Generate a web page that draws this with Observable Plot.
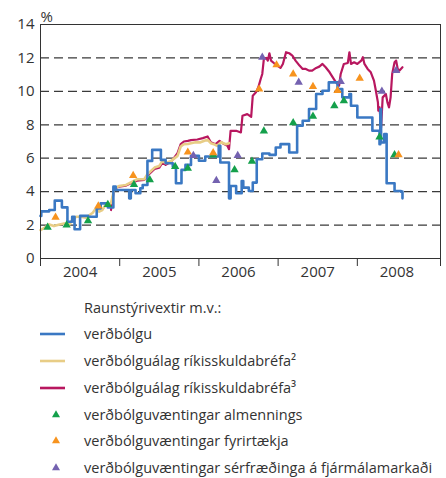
<!DOCTYPE html>
<html>
<head>
<meta charset="utf-8">
<script src="https://cdn.jsdelivr.net/npm/d3@7"></script>
<script src="https://cdn.jsdelivr.net/npm/@observablehq/plot@0.6"></script>
<style>
  body { margin: 0; background: #fff; }
  #chart { width: 446px; height: 478px; position: relative; font-family: "Open Sans", sans-serif; color: #333; }
  #chart svg { display: block; }
</style>
</head>
<body>
<div id="chart"></div>
<script>
// ---- Data (decimal years, %) ----
const blueT = [2004.00,2004.01,2004.11,2004.18,2004.27,2004.34,2004.40,2004.43,2004.50,2004.60,2004.71,2004.76,2004.85,2004.92,2004.95,2005.12,2005.14,2005.20,2005.26,2005.29,2005.35,2005.41,2005.52,2005.58,2005.67,2005.71,2005.78,2005.83,2005.90,2006.00,2006.08,2006.15,2006.25,2006.27,2006.38,2006.40,2006.47,2006.54,2006.56,2006.63,2006.68,2006.73,2006.80,2006.89,2006.97,2007.03,2007.14,2007.24,2007.31,2007.39,2007.48,2007.56,2007.64,2007.75,2007.81,2007.90,2007.92,2008.00,2008.19,2008.28,2008.29,2008.30,2008.34,2008.37,2008.47,2008.55,2008.57];
const blueV = [2.55,2.82,2.9,3.46,3.06,2.2,2.5,1.75,2.55,2.5,3.0,3.3,3.05,4.3,4.1,3.6,4.1,3.9,4.2,4.4,5.84,6.5,5.9,5.7,5.5,4.5,5.3,5.6,6.15,5.85,6.1,6.1,6.75,5.74,3.6,4.34,3.9,4.64,4.24,4.04,4.54,5.94,6.28,6.2,6.64,6.84,6.34,7.94,8.24,8.94,9.84,10.04,10.54,10.14,9.64,9.84,9.14,8.44,7.64,6.84,8.94,6.94,7.44,4.5,4.04,4.0,3.6];

const yellowT = [2004.00,2004.05,2004.11,2004.17,2004.24,2004.30,2004.36,2004.40,2004.45,2004.51,2004.57,2004.66,2004.70,2004.74,2004.78,2004.82,2004.89,2004.93,2004.99,2005.08,2005.16,2005.22,2005.31,2005.35,2005.44,2005.50,2005.54,2005.58,2005.65,2005.73,2005.77,2005.81,2005.86,2005.90,2005.96,2006.02,2006.07,2006.11,2006.15,2006.19,2006.23,2006.28,2006.34,2006.38];
const yellowV = [1.7,1.84,2.04,1.94,2.04,2.1,2.0,2.3,2.5,2.5,2.44,2.74,3.0,2.8,2.9,3.2,3.3,4.14,4.34,4.4,4.6,4.74,4.74,5.04,5.44,5.54,5.84,5.7,5.84,6.14,6.7,6.84,6.85,6.9,6.95,6.95,7.04,7.1,6.9,6.84,6.74,6.95,6.84,6.9];

const redT = [2004.89,2004.93,2004.99,2005.08,2005.16,2005.22,2005.31,2005.35,2005.44,2005.50,2005.54,2005.58,2005.65,2005.73,2005.77,2005.81,2005.86,2005.90,2005.98,2006.05,2006.11,2006.15,2006.21,2006.26,2006.30,2006.36,2006.38,2006.40,2006.47,2006.53,2006.55,2006.61,2006.66,2006.68,2006.72,2006.75,2006.78,2006.80,2006.82,2006.85,2006.87,2006.89,2006.91,2006.95,2006.99,2007.03,2007.06,2007.10,2007.14,2007.18,2007.22,2007.27,2007.31,2007.35,2007.39,2007.43,2007.48,2007.52,2007.56,2007.60,2007.65,2007.69,2007.73,2007.77,2007.79,2007.83,2007.88,2007.90,2007.92,2007.96,2008.00,2008.05,2008.07,2008.09,2008.13,2008.17,2008.21,2008.23,2008.26,2008.265,2008.28,2008.30,2008.32,2008.36,2008.38,2008.40,2008.42,2008.44,2008.47,2008.49,2008.51,2008.53,2008.55,2008.57];
const redV = [2.9,4.2,4.3,4.36,4.55,4.66,4.7,4.95,5.36,5.44,5.75,5.6,5.8,6.3,6.85,7.0,7.04,7.08,7.12,7.2,7.3,6.95,6.84,7.04,6.9,6.74,6.54,7.64,7.64,7.54,8.54,8.64,8.48,9.74,9.94,10.24,10.74,11.04,11.94,12.0,11.84,12.28,11.84,11.68,11.54,11.4,11.64,12.34,12.28,12.14,11.84,11.54,11.34,11.34,11.24,11.24,11.4,11.48,11.64,11.44,11.14,10.84,10.54,10.34,11.04,11.64,11.7,12.34,11.64,11.74,11.64,11.84,12.04,11.64,11.34,11.14,10.64,10.14,9.34,8.84,9.04,7.84,9.64,9.84,9.34,9.04,9.64,11.04,11.74,11.84,11.34,11.24,11.34,11.44];

const greenT = [2004.09,2004.33,2004.60,2004.85,2005.18,2005.38,2005.70,2005.86,2006.18,2006.45,2006.67,2006.82,2007.19,2007.44,2007.71,2007.83,2008.28,2008.47];
const greenV = [1.86,2.0,2.26,3.22,4.42,4.7,5.5,5.4,6.18,5.3,5.82,7.62,8.12,8.5,9.14,9.44,7.26,6.2];

const orangeT = [2004.19,2004.73,2005.17,2005.86,2006.18,2006.76,2006.98,2007.19,2007.44,2007.75,2008.03,2008.52];
const orangeV = [2.46,3.14,4.96,6.36,6.32,10.14,11.58,11.04,10.28,10.04,10.78,6.2];

const purpleT = [2005.93,2006.22,2006.49,2006.80,2007.26,2007.79,2008.31,2008.49];
const purpleV = [6.16,4.66,6.16,12.04,10.54,10.58,10.0,11.24];

const yearTicks = [2004, 2005, 2006, 2007, 2008, 2009.05];
const yearLabels = [2004, 2005, 2006, 2007, 2008];
const yTicks = [0, 2, 4, 6, 8, 10, 12, 14];
const gridLines = [2, 4, 6, 8, 10, 12];

const legendTitle = "Raunstýrivextir m.v.:";
const legendNames = [
  "verðbólgu",
  "verðbólguálag ríkisskuldabréfa²",
  "verðbólguálag ríkisskuldabréfa³",
  "verðbólguvæntingar almennings",
  "verðbólguvæntingar fyrirtækja",
  "verðbólguvæntingar sérfræðinga á fjármálamarkaði"
];

// ---- Styles ----
const C = { blue: "#3a78c3", yellow: "#e8cd86", red: "#b8175f", green: "#14a04b", orange: "#f7931e", purple: "#7462b0" };
const legendKinds = ["line", "line", "line", "tri", "tri", "tri"];
const legendColors = [C.blue, C.yellow, C.red, C.green, C.orange, C.purple];

const zip = (T, V) => T.map((t, i) => ({ t, v: V[i] }));
const blue = zip(blueT, blueV), yellow = zip(yellowT, yellowV), red = zip(redT, redV);
const green = zip(greenT, greenV), orange = zip(orangeT, orangeV), purple = zip(purpleT, purpleV);

const font = '"Open Sans", sans-serif';

const plot = Plot.plot({
  width: 446,
  height: 285,
  marginTop: 24,
  marginBottom: 27,
  marginLeft: 40,
  marginRight: 6,
  style: { fontFamily: font, fontSize: "15px", color: "#333", background: "#fff", overflow: "visible" },
  x: { type: "linear", domain: [2004, 2009.05] },
  y: { domain: [0, 14] },
  marks: [
    Plot.ruleY(gridLines, { stroke: "#3a3a3a", strokeWidth: 1.2, strokeDasharray: "9,5" }),
    Plot.line(red, { x: "t", y: "v", stroke: C.red, strokeWidth: 2.2 }),
    Plot.line(yellow, { x: "t", y: "v", stroke: C.yellow, strokeWidth: 2.6 }),
    Plot.line(blue, { x: "t", y: "v", stroke: C.blue, strokeWidth: 2.6, curve: "step-after" }),
    Plot.dot(green, { x: "t", y: "v", symbol: "triangle", r: 3.1, fill: C.green, stroke: null }),
    Plot.dot(orange, { x: "t", y: "v", symbol: "triangle", r: 3.1, fill: C.orange, stroke: null }),
    Plot.dot(purple, { x: "t", y: "v", symbol: "triangle", r: 3.1, fill: C.purple, stroke: null }),
    Plot.frame({ stroke: "#333", strokeWidth: 1 }),
    Plot.axisX({ ticks: yearTicks, tickSize: 8, tickFormat: () => "", label: null, stroke: "#333" }),
    Plot.axisX(yearLabels.map(y => y + 0.5), { tickSize: 0, tickPadding: 8, tickFormat: d => String(Math.floor(d)), label: null, fontSize: 15 }),
    Plot.axisY({ ticks: yTicks, tickSize: 0, tickPadding: 6, label: null, fontSize: 15 }),
    Plot.text(["%"], { frameAnchor: "top-left", dy: -13, textAnchor: "start", fontSize: 15 })
  ]
});

const chart = document.getElementById("chart");
chart.appendChild(plot);

// ---- Legend ----
const lg = d3.select(chart).append("svg")
  .attr("width", 446).attr("height", 193)
  .style("font-family", font).style("font-size", "14.5px");

lg.append("text").attr("x", 84).attr("y", 23).attr("dy", "0.35em").attr("fill", "#333").text(legendTitle);

const rowY = [49, 76, 103, 130, 156, 183];
legendNames.forEach((name, i) => {
  const g = lg.append("g").attr("transform", `translate(0,${rowY[i]})`);
  if (legendKinds[i] === "line") {
    g.append("line").attr("x1", 40).attr("x2", 65).attr("y1", 0).attr("y2", 0)
      .attr("stroke", legendColors[i]).attr("stroke-width", 2.6);
  } else {
    g.append("path").attr("d", d3.symbol(d3.symbolTriangle, 28)()).attr("transform", "translate(56,0)")
      .attr("fill", legendColors[i]);
  }
  g.append("text").attr("x", 84).attr("y", 0).attr("dy", "0.35em").attr("fill", "#333").text(name);
});
</script>
</body>
</html>
